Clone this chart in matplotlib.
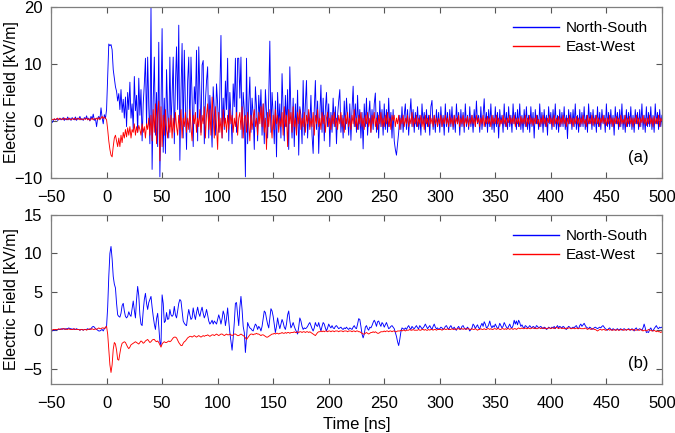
import numpy as np
import matplotlib
matplotlib.use("Agg")
import matplotlib.pyplot as plt

plt.rcParams['font.family'] = ['Liberation Sans', 'DejaVu Sans']

# sampled every 1 ns starting at -50 ns
t0 = -50

# (a) North-South, kV/m
ns_a = [
    0.2, -0.3, 0.1, 0.3, 0.2, 0.4, 0.1, 0.3, 0.5, 0.2,
    0.3, 0.6, 0.1, 0.4, 0.2, 0.7, 0.2, 0.5, 0.1, 0.6,
    0.3, 0.2, 0.7, 0.1, 0.5, 0.3, 0.8, 0.2, 0.4, 0.1,
    0.6, 0.3, 0.9, 0.2, 0.5, 0.0, 0.8, 0.3, 1.2, 0.1,
    0.4, -1.0, 0.5, 0.8, 0.2, 2.3, 0.6, -0.5, 1.1, 0.4,
    2.0, 8.0, 13.5, 13.2, 13.4, 12.5, 9.0, 7.5, 6.0, 5.2,
    3.5, 4.8, 2.0, 5.5, 1.5, 3.8, 0.5, 4.2, -1.0, 5.0,
    2.0, 6.8, 0.5, 3.0, -1.5, 7.8, 1.8, 4.5, -2.0, 7.5,
    1.0, 5.5, -3.5, 3.0, 6.5, 11.0, -1.0, 11.2, 2.5, -4.0,
    20.0, -8.5, 3.5, 11.2, -2.5, 5.0, -4.5, 13.8, -9.8, 2.0,
    16.2, -5.5, 4.0, -5.7, 9.0, 1.5, -3.0, 11.2, -1.0, 4.5,
    11.2, -4.0, 6.5, 13.0, 2.0, 16.8, -6.9, 5.0, 13.6, -3.0,
    12.4, 2.5, -5.0, 7.0, 11.2, -2.0, 11.2, 4.0, -4.5, 6.0,
    3.0, 12.4, -3.5, 13.0, 5.0, -2.0, 9.8, 10.6, -4.0, 3.5,
    7.0, 9.5, -3.0, 4.5, 1.0, -4.6, 6.0, 2.0, -2.5, 6.5,
    3.0, -2.0, 5.0, 15.0, -3.0, 4.0, -1.5, 7.0, 2.0, 11.0,
    -3.5, 5.0, 1.0, -4.0, 6.5, 2.5, 11.0, -2.0, 11.0, 11.0,
    4.0, 11.2, -3.0, 5.0, 2.0, -9.8, 11.0, -4.0, 3.0, 7.7,
    -2.0, 4.0, 1.0, -5.0, 6.0, 2.5, -3.5, 4.5, 0.5, 5.5,
    -2.5, 3.0, -4.0, 5.5, 1.5, -3.0, 4.0, 14.0, -2.0, 5.0,
    1.0, -4.0, 3.5, -6.3, 5.0, -1.0, 3.0, -3.0, 8.3, 2.0,
    -3.5, 4.5, -1.0, 5.5, -5.0, 9.5, 1.5, -3.0, 4.0, -4.5,
    3.0, -2.0, 5.4, -6.0, 2.5, 1.0, -4.0, 7.1, -2.5, 3.0,
    7.1, -3.0, 1.5, -1.0, 4.5, -2.5, -5.7, 2.0, 7.1, -1.5,
    3.5, -5.7, 1.0, 6.3, -2.0, 4.0, -3.5, 2.0, 5.0, -1.0,
    3.0, -4.5, 1.5, -2.0, 4.0, -1.0, 2.5, -4.0, 1.0, 3.5,
    5.5, -2.0, 1.0, -3.0, 3.5, -1.5, 4.0, 0.5, -2.5, 3.0,
    -3.4, 2.0, 6.1, -1.0, 3.0, -2.0, 4.5, -1.5, 2.0, -3.0,
    1.5, -4.9, 3.0, -1.0, 4.0, -2.5, 1.0, 3.5, -2.0, 2.0,
    -1.5, 3.0, 4.9, -2.0, 1.5, -3.0, 3.5, -1.0, 2.0, -2.5,
    3.0, -1.5, 2.0, -2.0, 4.0, -1.0, 1.5, -3.0, 2.0, -3.5,
    -5.0, -6.0, -4.0, -2.0, 1.0, -1.5, 2.5, -2.0, 1.0, 3.0,
    -1.5, 2.0, -2.5, 1.0, 3.9, -1.0, 2.0, -2.0, 1.5, -1.0,
    2.5, -1.5, 1.0, -2.5, 3.0, -0.5, 1.5, -2.0, 2.0, -1.0,
    1.0, -2.5, 2.5, 3.6, -1.5, 1.0, -2.0, 2.0, -1.0, 1.5,
    -2.0, 2.5, -1.0, 1.0, -2.5, 3.0, -1.0, 1.5, -2.0, 2.0,
    -1.0, 2.5, -1.5, 1.0, -2.0, 3.0, -0.5, 1.5, -2.5, 2.0,
    -1.0, 1.5, -2.0, 3.0, -1.0, 1.0, -1.5, 2.5, -1.0, 1.0,
    -2.0, 2.0, -1.0, 3.5, -0.5, 1.0, -2.0, 2.5, -1.5, 1.0,
    3.9, -1.0, 1.5, -2.0, 2.0, -1.0, 3.0, -1.5, 1.0, -2.0,
    2.5, -1.0, 1.5, -3.0, 2.0, -0.5, 1.0, -2.0, 3.0, -1.0,
    1.5, -1.5, 2.5, -1.0, 1.0, -2.0, 3.0, -0.5, 1.5, -1.5,
    2.0, -1.0, 3.0, -1.5, 1.0, -2.0, 2.0, -1.0, 2.5, -1.5,
    1.0, -2.0, 2.5, -1.0, 1.5, -3.0, 2.0, -0.5, 1.0, -1.5,
    3.0, -1.0, 1.5, -2.0, 2.0, -1.0, 1.0, -2.5, 2.5, -0.5,
    1.5, -1.5, 2.0, -1.0, 3.0, -1.5, 1.0, -2.0, 2.0, -1.0,
    1.5, -1.0, 2.5, -1.5, 1.0, -3.1, 2.0, -0.5, 1.5, -1.5,
    2.0, -1.0, 3.0, -1.5, 1.0, -2.0, 2.0, -1.0, 1.5, -1.0,
    2.5, -1.5, 1.0, -2.0, 3.0, -0.5, 1.5, -1.5, 2.0, -1.0,
    1.0, -2.0, 2.5, -1.0, 1.5, -1.5, 2.0, -0.5, 1.0, -2.0,
    3.0, -1.0, 1.5, -1.5, 2.0, -1.0, 1.0, -2.5, 2.5, -0.5,
    1.5, -1.5, 2.0, -1.0, 3.0, -1.5, 1.0, -2.0, 2.0, -1.0,
    1.5, -1.0, 2.5, -1.5, 1.0, -2.0, 2.0, -0.5, 1.5, -1.5,
    2.0, -1.0, 3.0, -1.5, 1.0, -2.0, 2.5, -1.0, 1.5, -1.0,
    2.5, -1.5, 1.0, -2.0, 3.0, -0.5, 1.5, -1.5, 2.0, -1.0,
    1.0,
]

# (a) East-West, kV/m
ew_a = [
    0.1, 0.3, 0.2, 0.4, 0.2, 0.3, 0.5, 0.2, 0.4, 0.3,
    0.4, 0.2, 0.5, 0.3, 0.4, 0.2, 0.5, 0.3, 0.2, 0.4,
    0.3, 0.5, 0.2, 0.4, 0.3, 0.5, 0.2, 0.4, 0.3, 0.2,
    0.4, 0.3, 0.5, 0.2, 0.4, 0.1, 0.3, 0.5, 0.2, 0.4,
    0.3, 0.5, 0.2, 0.6, 0.3, 0.5, 0.8, 0.4, 0.7, 0.5,
    0.2, -1.5, -3.5, -5.0, -6.0, -6.3, -4.5, -3.0, -2.5, -3.5,
    -4.5, -3.0, -4.5, -2.5, -3.8, -2.0, -3.0, -1.5, -2.8, -1.2,
    -2.5, -1.0, -3.0, -1.5, -2.0, -0.5, -2.5, -1.0, -2.0, -0.8,
    -1.5, -2.5, -0.5, -2.0, -1.0, -3.0, -0.5, -1.5, 0.5, -2.5,
    1.0, -3.5, 2.0, -2.0, 3.0, -4.0, 1.5, 3.5, -7.0, 2.5,
    -4.5, 1.0, -2.5, 2.0, -1.5, -3.0, 0.5, -2.0, 1.0, -3.0,
    0.5, -2.0, 1.5, -1.0, -2.5, 1.0, -1.5, 2.0, -3.0, 0.5,
    -1.0, 1.5, -2.0, 0.5, -1.5, 2.0, -1.0, -3.5, 1.0, -0.5,
    1.5, -2.0, 0.5, -1.0, 2.0, -2.5, 1.0, -0.5, 2.5, -3.0,
    1.0, 3.0, -1.5, 2.0, -2.5, 4.2, 1.0, -3.0, 2.5, -1.0,
    -5.0, 1.5, -2.0, 0.5, -3.0, 2.0, -1.0, 0.5, -2.0, 1.0,
    -1.5, 2.0, -0.5, 1.0, -2.0, 0.5, -1.0, 1.5, -2.5, 0.5,
    1.5, -1.5, 2.5, -3.0, 0.5, 1.0, -2.0, 1.5, -0.5, -3.5,
    1.0, -1.5, 0.5, 2.0, -1.0, 0.5, -2.5, 1.5, -0.5, 2.5,
    -1.0, 3.0, -2.0, 0.5, -5.0, 1.5, -1.0, 2.0, -0.5, -3.0,
    1.0, -1.5, 2.0, -0.5, 1.0, -2.0, 0.5, -1.0, 1.5, -2.5,
    2.5, -1.0, 1.0, -4.5, 2.0, -0.5, 1.5, -2.0, 2.5, -1.0,
    0.5, -2.5, 1.5, -0.5, 2.0, -1.5, 0.5, -1.0, 1.5, -2.0,
    1.0, -0.5, 2.0, -1.5, 0.5, -1.0, 1.5, -2.5, 1.0, -0.5,
    2.0, -1.0, 0.5, -1.5, 1.5, -0.5, 1.0, -2.0, 0.5, 1.5,
    -1.0, 0.5, -1.5, 1.0, -0.5, 1.5, -1.0, 0.5, -1.5, 1.0,
    -0.5, 1.5, -1.0, 0.5, -2.0, 1.0, -0.5, 1.5, -1.0, 0.5,
    -1.5, 1.0, -0.5, 2.0, -1.0, 0.5, -1.5, 1.0, -0.5, 1.5,
    -1.0, 0.5, -1.5, 1.0, -0.5, 1.5, -1.0, 0.5, -2.0, 1.0,
    -0.5, 1.5, -1.0, 0.5, -1.5, 1.0, -0.5, 1.5, -1.0, 0.5,
    -1.0, 1.0, -0.5, 1.5, -1.0, 0.5, -1.5, 1.0, 0.0, 1.0,
    -1.0, 0.5, -0.5, 1.0, -1.5, 0.5, -0.5, 1.0, -1.0, 0.5,
    -0.5, 1.0, -1.0, 0.5, -0.5, 1.5, -1.0, 0.5, -0.5, 1.0,
    -1.0, 0.5, -0.5, 1.0, -1.0, 0.5, -1.5, 1.0, -0.5, 0.5,
    -1.0, 1.0, -0.5, 0.5, -1.0, 1.0, -0.5, 0.5, -1.0, 0.5,
    -0.5, 1.0, -1.0, 0.5, -0.5, 1.0, -0.5, 0.5, -1.0, 1.0,
    -0.5, 0.5, -1.0, 1.0, -0.5, 0.5, -0.5, 1.0, -1.0, 0.5,
    -0.5, 1.0, -1.0, 0.5, -0.5, 0.8, -1.0, 0.5, -0.5, 1.0,
    -0.5, 0.5, -1.0, 1.0, -0.3, 0.5, -1.0, 0.5, -0.5, 1.0,
    -1.0, 0.5, -0.5, 0.8, -0.5, 0.5, -1.0, 1.0, -0.5, 0.5,
    -0.5, 1.0, -0.5, 0.5, -1.0, 0.3, -0.5, 1.0, -0.5, 0.5,
    -1.0, 0.5, -0.3, 1.0, -0.5, 0.5, -0.5, 1.0, -1.0, 0.5,
    -0.5, 0.5, -1.0, 0.8, -0.5, 0.5, -0.5, 1.0, -1.0, 0.5,
    -0.5, 1.0, -0.5, 0.5, -0.8, 0.5, -0.5, 1.0, -0.5, 0.3,
    -1.0, 0.5, -0.5, 1.0, -0.5, 0.5, -1.0, 0.5, -0.3, 1.0,
    -0.5, 0.5, -1.0, 1.0, -0.5, 0.5, -0.5, 0.8, -1.0, 0.5,
    -0.5, 1.0, -0.5, 0.5, -1.0, 0.5, -0.5, 1.0, -0.5, 0.5,
    -1.0, 0.5, -0.5, 0.8, -0.5, 0.5, -1.0, 0.5, -0.5, 1.0,
    -0.5, 0.3, -1.0, 1.0, -0.5, 0.5, -0.5, 1.0, -0.8, 0.5,
    -0.5, 1.0, -0.5, 0.5, -1.0, 0.5, -0.3, 1.0, -0.5, 0.5,
    -0.8, 0.5, -0.5, 1.0, -0.5, 0.5, -1.0, 0.5, -0.5, 0.8,
    -0.5, 0.5, -1.0, 1.0, -0.5, 0.3, -0.5, 1.0, -1.0, 0.5,
    -0.5, 0.8, -0.5, 0.5, -1.0, 0.5, -0.5, 1.0, -0.5, 0.5,
    -1.0, 0.5, -0.3, 1.0, -0.5, 0.5, -0.8, 0.5, -0.5, 1.0,
    -0.5, 0.5, -1.0, 0.8, -0.5, 0.5, -0.5, 1.0, -1.0, 0.5,
    0.0,
]

# (b) North-South, kV/m
ns_b = [
    -0.1, -0.1, 0.0, 0.0, 0.1, 0.0, 0.1, 0.1, 0.1, 0.2,
    0.1, 0.2, 0.2, 0.1, 0.2, 0.2, 0.3, 0.2, 0.2, 0.1,
    0.2, 0.1, 0.1, 0.2, 0.1, 0.1, 0.0, 0.1, 0.1, 0.0,
    0.1, 0.1, 0.1, 0.2, 0.1, 0.1, 0.2, 0.4, 0.5, 0.4,
    0.2, 0.1, 0.0, -0.1, -0.1, 0.0, 0.1, -0.1, 0.2, 0.3,
    0.5, 3.0, 7.0, 10.0, 10.9, 9.3, 7.0, 6.0, 5.5, 3.5,
    2.0, 1.8, 1.7, 2.2, 3.2, 3.5, 2.5, 1.8, 1.6, 1.8,
    2.4, 2.0, 1.8, 2.8, 3.8, 2.6, 1.6, 4.0, 5.7, 4.5,
    2.0, 0.8, 0.6, 2.5, 4.0, 4.8, 3.5, 2.7, 3.6, 4.0,
    4.4, 3.0, 1.8, 0.8, 0.1, 1.5, 2.2, 0.5, -1.5, -2.0,
    4.6, 3.5, 1.0, 1.2, 2.3, 1.4, 1.5, 2.7, 2.0, 1.8,
    2.0, 3.1, 2.0, 1.6, 2.5, 3.5, 4.0, 3.8, 2.5, 1.2,
    0.9, 0.7, 0.6, 1.8, 2.7, 2.0, 1.4, 1.6, 2.9, 2.0,
    1.4, 2.3, 3.0, 2.2, 1.8, 2.5, 3.0, 2.2, 1.6, 2.0,
    2.7, 2.0, 1.2, 0.8, 1.0, 1.3, 0.8, 1.2, 1.0, 0.8,
    1.4, 2.0, 1.5, 0.8, 1.5, 2.5, 2.0, 0.6, 1.5, 2.9,
    1.2, -0.3, -1.5, -2.6, -1.0, 1.0, 3.5, 3.6, 2.0, 0.6,
    3.0, 4.4, 2.7, 0.5, -0.3, -2.9, -1.0, 1.0, 0.6, 0.3,
    0.2, 0.0, -0.1, 0.4, 0.8, 0.6, 0.1, 0.5, 0.3, -0.1,
    0.5, 1.5, 2.5, 2.3, 1.5, 0.8, 0.3, 1.5, 2.8, 2.5,
    1.8, 0.8, -0.3, 0.5, 1.6, 0.8, 0.2, 0.8, 1.4, 1.0,
    0.4, 0.1, 0.8, 2.0, 2.5, 1.2, 0.3, 0.6, 1.0, 0.5,
    0.1, -0.2, -0.5, 0.4, 1.6, 1.2, 0.5, 0.1, 0.3, 0.2,
    0.3, 0.5, 0.8, 1.0, 0.6, 0.2, -0.1, 0.3, 1.0, 0.6,
    0.5, 1.0, 0.4, -0.1, 0.5, 1.0, 0.8, 0.3, -0.1, 0.3,
    0.8, 0.5, 0.3, 0.6, 0.3, 0.2, 0.5, 0.6, 0.4, 0.2,
    0.3, 0.4, 0.2, 0.1, 0.3, 0.2, 0.4, 0.2, 0.1, 0.3,
    0.2, 0.1, 0.4, 0.6, 0.3, 0.2, 0.8, 1.5, 1.4, 0.5,
    -0.5, -1.0, -0.5, 0.4, 0.6, 0.2, 0.0, 0.4, 0.3, 0.6,
    1.0, 1.3, 1.0, 0.5, 1.1, 1.2, 0.8, 0.5, 1.0, 0.8,
    0.4, 0.7, 1.0, 0.6, 0.2, 0.3, 0.5, 0.6, 0.4, 0.2,
    -0.3, -0.8, -1.5, -2.0, -1.2, -0.2, 0.3, 0.2, 0.1, 0.3,
    0.1, 0.4, 0.6, 0.3, 0.1, 0.5, 0.3, 0.2, 0.4, 0.6,
    0.3, 0.2, 0.6, 0.4, 0.2, 0.3, 0.5, 0.8, 0.5, 0.2,
    0.4, 0.6, 0.3, 0.1, 0.5, 0.8, 0.4, 0.2, 0.3, 0.1,
    0.2, 0.4, 0.3, 0.1, 0.2, 0.5, 0.6, 0.3, 0.1, 0.4,
    0.6, 0.3, 0.2, 0.4, 0.1, 0.0, 0.3, 0.5, 0.2, 0.1,
    0.5, 0.6, 0.3, 0.1, 0.2, 0.4, 0.2, -0.1, 0.1, 0.3,
    0.8, 0.6, 0.2, 0.5, 0.7, 0.3, 0.2, 0.6, 0.9, 0.5,
    1.1, 0.8, 0.3, 0.4, 0.7, 1.2, 0.6, 0.3, 0.6, 0.4,
    0.8, 0.5, 0.2, 0.4, 0.9, 0.6, 0.3, 0.5, 1.0, 0.7,
    0.4, 0.2, 0.5, 0.8, 0.4, 0.3, 0.6, 1.3, 0.8, 1.2,
    0.7, 1.3, 1.0, 0.5, 0.7, 0.4, 0.3, 0.6, 0.5, 0.3,
    0.4, 0.6, 0.4, 0.3, 0.5, 0.4, 0.2, 0.6, 0.5, 0.3,
    0.4, 0.5, 0.3, 0.2, 0.4, 0.3, 0.1, 0.2, 0.4, 0.3,
    0.2, 0.4, 0.3, 0.5, 0.2, 0.4, 0.6, 0.3, 0.5, 0.4,
    0.3, 0.5, 0.4, 0.2, 0.1, 0.3, 0.5, 0.4, 0.2, 0.3,
    0.4, 0.3, 0.5, 0.6, 0.3, 0.2, 0.6, 0.8, 0.5, 0.7,
    0.9, 0.6, 0.4, 0.3, 0.2, 0.4, 0.3, 0.1, 0.2, 0.3,
    0.4, 0.3, 0.2, 0.3, 0.4, 0.3, 0.5, 0.6, 0.4, 0.2,
    0.1, 0.0, 0.2, 0.3, 0.1, 0.0, 0.2, 0.1, 0.0, 0.1,
    0.2, 0.0, 0.1, 0.2, 0.0, 0.1, 0.2, 0.1, 0.0, 0.1,
    0.2, 0.1, 0.0, 0.2, 0.1, -0.1, 0.2, 0.3, 0.0, 0.1,
    0.2, 0.1, 0.0, 0.3, 0.8, 0.3, -0.3, -0.2, -0.3, 0.1,
    0.3, 0.0, -0.1, 0.2, 0.4, 0.6, 0.3, 0.2, 0.4, 0.3,
    0.4,
]

# (b) East-West, kV/m
ew_b = [
    0.0, 0.0, 0.1, 0.1, 0.1, 0.1, 0.1, 0.2, 0.1, 0.1,
    0.2, 0.2, 0.1, 0.2, 0.1, 0.1, 0.2, 0.1, 0.1, 0.1,
    0.1, 0.2, 0.1, 0.1, 0.1, 0.1, 0.0, 0.1, 0.1, 0.0,
    0.1, 0.1, 0.0, 0.1, 0.1, 0.2, 0.1, 0.2, 0.1, 0.1,
    0.2, 0.1, 0.2, 0.3, 0.2, 0.2, 0.3, 0.3, 0.2, 0.4,
    0.5, -0.5, -2.5, -4.5, -5.5, -4.5, -2.5, -1.6, -1.8, -2.6,
    -3.8, -3.9, -3.0, -2.2, -1.7, -1.6, -1.5, -1.6, -1.9, -2.2,
    -2.4, -2.2, -1.9, -1.8, -1.7, -1.6, -1.5, -1.6, -1.7, -1.8,
    -1.6, -1.4, -1.5, -1.7, -1.6, -1.4, -1.3, -1.2, -1.4, -1.6,
    -1.5, -1.3, -1.2, -1.2, -1.4, -1.5, -1.4, -1.6, -1.9, -2.2,
    -1.8, -1.6, -1.5, -1.6, -1.6, -1.5, -1.4, -1.5, -1.4, -1.2,
    -1.0, -0.9, -0.9, -1.0, -1.3, -1.6, -1.8, -2.0, -2.0, -1.7,
    -1.5, -1.4, -1.2, -1.0, -0.9, -0.8, -0.8, -0.9, -0.8, -0.7,
    -0.8, -0.9, -0.8, -0.7, -0.8, -0.9, -0.8, -0.7, -0.8, -0.7,
    -0.7, -0.6, -0.7, -0.8, -0.7, -0.6, -0.6, -0.7, -0.6, -0.5,
    -0.6, -0.7, -0.6, -0.5, -0.5, -0.6, -0.7, -0.6, -0.5, -0.6,
    -0.6, -0.5, -0.6, -0.7, -0.6, -0.5, -0.5, -0.6, -0.7, -0.7,
    -0.6, -0.5, -0.6, -0.7, -0.8, -1.0, -1.2, -1.0, -0.8, -0.6,
    -0.5, -0.5, -0.6, -0.5, -0.5, -0.4, -0.5, -0.5, -0.6, -0.7,
    -0.6, -0.6, -0.7, -0.8, -0.9, -0.9, -0.8, -0.7, -0.6, -0.5,
    -0.5, -0.4, -0.5, -0.4, -0.4, -0.5, -0.4, -0.4, -0.3, -0.4,
    -0.4, -0.3, -0.4, -0.3, -0.3, -0.4, -0.3, -0.3, -0.3, -0.2,
    -0.3, -0.3, -0.2, -0.3, -0.2, -0.2, -0.3, -0.2, -0.2, -0.3,
    -0.2, -0.2, -0.3, -0.2, -0.3, -0.4, -0.5, -0.6, -0.7, -0.5,
    -0.3, -0.2, -0.2, -0.1, -0.2, -0.1, -0.2, -0.1, -0.1, -0.2,
    -0.1, -0.1, -0.2, -0.1, -0.1, -0.2, -0.1, -0.1, -0.1, -0.2,
    -0.1, -0.1, -0.1, -0.2, -0.1, -0.1, -0.1, -0.2, -0.1, -0.1,
    -0.1, -0.2, -0.1, -0.1, -0.2, -0.1, -0.1, -0.2, -0.2, -0.3,
    -0.4, -0.5, -0.5, -0.4, -0.3, -0.4, -0.5, -0.4, -0.3, -0.3,
    -0.2, -0.3, -0.2, -0.3, -0.4, -0.4, -0.3, -0.2, -0.2, -0.2,
    -0.1, -0.2, -0.1, -0.1, -0.2, -0.1, -0.1, -0.2, -0.1, -0.1,
    -0.2, -0.2, -0.1, -0.1, -0.1, 0.0, -0.1, 0.0, 0.0, -0.1,
    0.0, 0.0, 0.0, 0.1, 0.0, 0.0, 0.1, 0.0, 0.0, 0.0,
    0.0, 0.1, 0.0, 0.0, 0.1, 0.1, 0.0, 0.1, 0.0, 0.0,
    0.1, 0.0, 0.1, 0.1, 0.0, 0.1, 0.1, 0.0, 0.1, 0.1,
    0.1, 0.1, 0.0, 0.1, 0.2, 0.1, 0.1, 0.2, 0.1, 0.1,
    0.1, 0.2, 0.1, 0.1, 0.2, 0.1, 0.2, 0.2, 0.1, 0.2,
    0.2, 0.1, 0.2, 0.2, 0.1, 0.2, 0.2, 0.1, 0.1, 0.2,
    0.1, 0.1, 0.2, 0.1, 0.0, 0.1, 0.1, 0.2, 0.1, 0.1,
    0.2, 0.1, 0.1, 0.2, 0.2, 0.1, 0.2, 0.1, 0.1, 0.2,
    0.2, 0.1, 0.2, 0.2, 0.1, 0.1, 0.2, 0.2, 0.1, 0.2,
    0.1, 0.2, 0.2, 0.1, 0.2, 0.2, 0.1, 0.2, 0.2, 0.1,
    0.2, 0.3, 0.2, 0.2, 0.3, 0.2, 0.2, 0.3, 0.2, 0.2,
    0.3, 0.2, 0.2, 0.3, 0.3, 0.2, 0.3, 0.2, 0.2, 0.3,
    0.3, 0.2, 0.3, 0.3, 0.2, 0.3, 0.2, 0.2, 0.3, 0.3,
    0.2, 0.3, 0.3, 0.2, 0.3, 0.4, 0.3, 0.2, 0.3, 0.3,
    0.2, 0.3, 0.2, 0.2, 0.3, 0.2, 0.3, 0.3, 0.2, 0.2,
    0.3, 0.2, 0.2, 0.3, 0.2, 0.2, 0.3, 0.2, 0.2, 0.2,
    0.2, 0.3, 0.2, 0.1, 0.2, 0.2, 0.1, 0.2, 0.2, 0.1,
    0.1, 0.0, -0.1, 0.0, 0.1, 0.1, 0.0, 0.1, 0.1, 0.0,
    0.0, 0.1, 0.1, 0.0, 0.1, 0.0, 0.0, 0.1, 0.0, 0.0,
    0.1, 0.0, 0.0, 0.1, 0.1, 0.0, 0.0, 0.1, 0.0, 0.1,
    0.1, 0.0, 0.1, 0.1, 0.0, 0.1, 0.0, 0.0, 0.1, 0.0,
    0.0, 0.1, 0.0, -0.1, 0.0, 0.0, -0.1, 0.0, 0.1, 0.0,
    0.0, -0.1, -0.1, 0.0, -0.1, -0.2, -0.1, -0.2, -0.2, -0.3,
    -0.2,
]

panels = [
    (ns_a, ew_a, (-10, 20), [-10, 0, 10, 20], '(a)'),
    (ns_b, ew_b, (-7, 15), [-5, 0, 5, 10, 15], '(b)'),
]
x_ticks = list(range(-50, 501, 50))

fig = plt.figure(figsize=(6.75, 4.33), dpi=100)
boxes = [[0.0756, 0.589, 0.905, 0.395], [0.0756, 0.1132, 0.905, 0.3903]]

for box, (ns, ew, ylim, yticks, tag) in zip(boxes, panels):
    ax = fig.add_axes(box)
    ax.plot(np.arange(len(ns)) + t0, ns, color='#0000ff', lw=0.65, label='North-South')
    ax.plot(np.arange(len(ew)) + t0, ew, color='#ff0000', lw=0.65, label='East-West')
    ax.set_xlim(-50, 500)
    ax.set_ylim(*ylim)
    ax.set_xticks(x_ticks)
    ax.set_yticks(yticks)
    ax.tick_params(direction='in', top=True, right=True, length=4,
                   width=0.8, color='#555555', labelsize=12)
    ax.tick_params(axis='x', pad=9)
    ax.tick_params(axis='y', pad=6)
    for s in ax.spines.values():
        s.set_color('#7f7f7f')
        s.set_linewidth(0.9)
    ax.set_ylabel('Electric Field [kV/m]', fontsize=11.5)
    ax.yaxis.set_label_coords(-0.052, 0.5)
    ax.text(0.962, 0.12, tag, transform=ax.transAxes, ha='center', va='center', fontsize=12)
    leg = ax.legend(loc='upper right', frameon=False, fontsize=11, handlelength=3.0,
                    handletextpad=0.4, labelspacing=0.3, borderaxespad=0.55)
    for line in leg.get_lines():
        line.set_linewidth(1.0)

ax.set_xlabel('Time [ns]', fontsize=12, labelpad=4)

fig.savefig('out.png', dpi=100)
